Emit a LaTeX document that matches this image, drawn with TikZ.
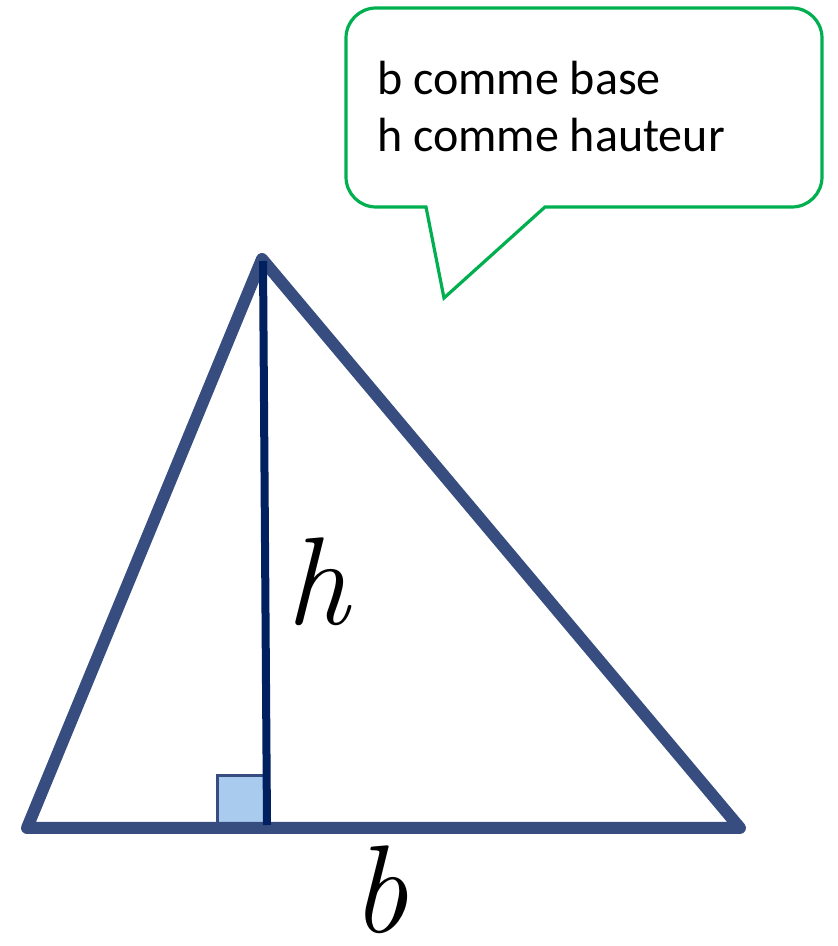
\documentclass[tikz,border=0pt]{standalone}
\usepackage{fontspec}
\newfontfamily\calibri{Carlito}
\definecolor{triblue}{RGB}{55,77,128}
\definecolor{hnavy}{RGB}{0,32,96}
\definecolor{sqfill}{RGB}{169,203,237}
\definecolor{callgreen}{RGB}{0,176,80}
\tikzset{
  triline/.style={draw=triblue,line width=12pt,line join=round,line cap=round},
  hline/.style={draw=hnavy,line width=8pt},
  rightsq/.style={draw=triblue,fill=sqfill,line width=3pt},
  callout/.style={draw=callgreen,line width=3.2pt,fill=white,line join=miter},
  calltext/.style={font=\calibri\fontsize{48}{57}\selectfont,anchor=base west,inner sep=0pt},
  cursivelabel/.style={font=\fontsize{125}{125}\selectfont\itshape,inner sep=0pt}
}
\begin{document}
\begin{tikzpicture}[x=1pt,y=1pt]
\useasboundingbox[fill=white] (0,0) rectangle (838,946);
% vertices
\coordinate (A) at (27,118);
\coordinate (B) at (262,687);
\coordinate (C) at (740,118);
\coordinate (H1) at (263,685);
\coordinate (H2) at (267,121);
% right angle square
\path[rightsq] (217,120) rectangle (265,170);
% triangle
\draw[triline] (A) -- (B) -- (C) -- cycle;
% height
\draw[hline] (H1) -- (H2);
% labels
\node[cursivelabel] (hlab) at (318,364) {h};
\node[cursivelabel] (blab) at (380,56) {b};
% callout
\draw[callout] (545,739) -- (792,739) arc[start angle=-90,end angle=0,radius=30]
  -- (822,908) arc[start angle=0,end angle=90,radius=30]
  -- (376,938) arc[start angle=90,end angle=180,radius=30]
  -- (346,769) arc[start angle=180,end angle=270,radius=30]
  -- (426,739) -- (444,648) -- cycle;
\node[calltext] (t1) at (377,851) {b comme base};
\node[calltext] (t2) at (377,794) {h comme hauteur};
\end{tikzpicture}
\end{document}
